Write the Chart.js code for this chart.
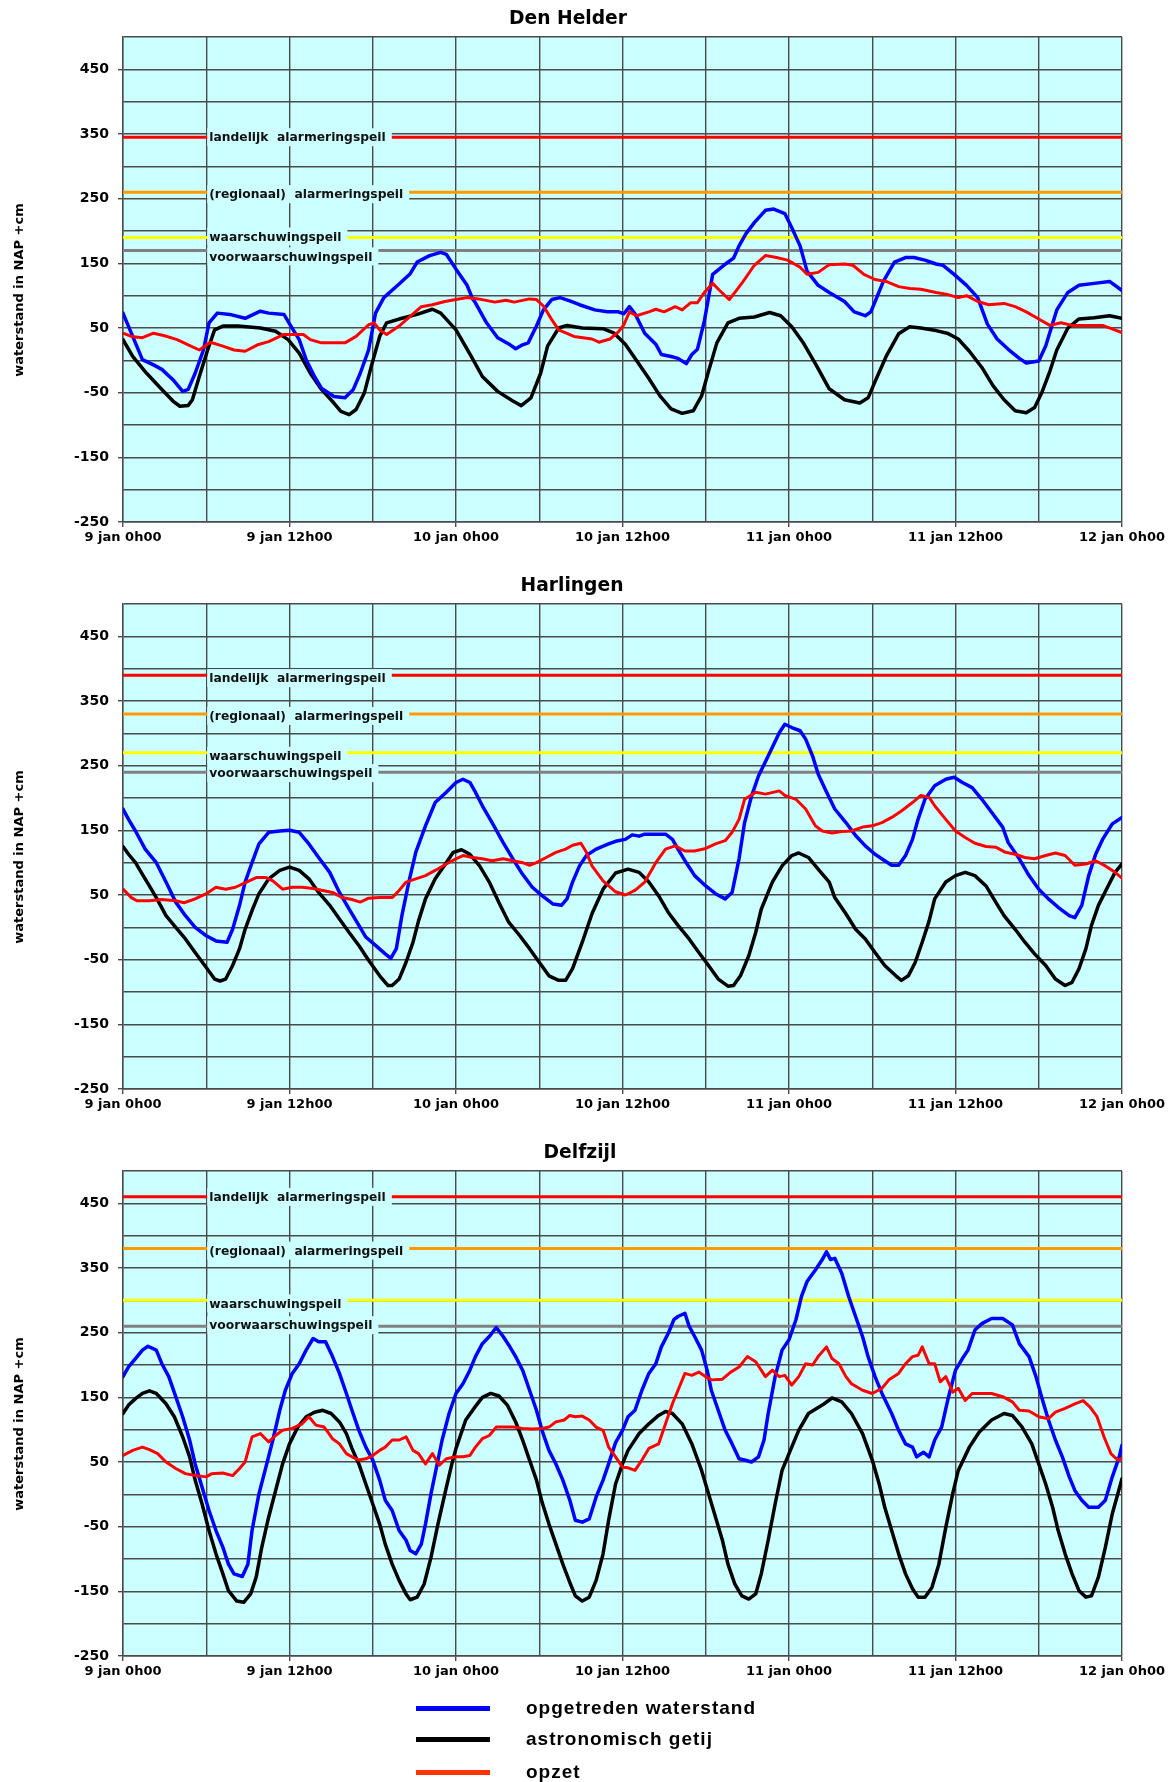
<!DOCTYPE html>
<html>
<head>
<meta charset="utf-8">
<script src="https://cdn.jsdelivr.net/npm/chart.js@4.4.1/dist/chart.umd.min.js"></script>
<style>
  body { margin: 0; background: #fff; width: 1173px; }
  .box { position: relative; width: 1173px; height: 567px; }
  #legend { position: relative; height: 114px; font: bold 19px "Liberation Sans", Arial, sans-serif; letter-spacing: 1px; color: #000; }
  .row { position: absolute; left: 416px; height: 24px; display: flex; align-items: center; white-space: nowrap; }
  .swatch { width: 74px; height: 5px; margin-right: 36px; }
</style>
</head>
<body>
<div class="box"><canvas id="helder"></canvas></div>
<div class="box"><canvas id="harlingen"></canvas></div>
<div class="box"><canvas id="delfzijl"></canvas></div>
<div id="legend"></div>
<script>
const stations = ["Den Helder", "Harlingen", "Delfzijl"];
const tickLabels = ["9 jan 0h00", "9 jan 12h00", "10 jan 0h00", "10 jan 12h00", "11 jan 0h00", "11 jan 12h00", "12 jan 0h00"];
const seriesNames = ["opgetreden waterstand", "astronomisch getij", "opzet"];
const levelNames = ["landelijk  alarmeringspeil", "(regionaal)  alarmeringspeil", "waarschuwingspeil", "voorwaarschuwingspeil"];

const helderLevels = [345, 260, 190, 170];
const harlingenLevels = [390, 330, 270, 240];
const delfzijlLevels = [460, 380, 300, 260];

// [hours since 9 jan 0h00, cm NAP]
const helderObserved = [[0,73],[0.6,42],[1.4,1],[2.2,-7],[2.8,-14],[3.6,-30],[4.3,-48],[4.7,-45],[5.2,-20],[5.8,16],[6.2,58],[6.8,73],[7.7,71],[8.8,65],[9.9,76],[10.5,73],[11.6,71],[12.1,53],[12.7,32],[13.2,1],[13.8,-25],[14.3,-43],[15.2,-56],[16,-58],[16.6,-45],[17.1,-20],[17.7,16],[18.2,73],[18.8,97],[19.9,118],[20.7,134],[21.2,152],[22.1,162],[22.9,167],[23.3,164],[24,141],[24.8,116],[25.2,95],[25.4,89],[26.2,58],[27,35],[27.9,24],[28.3,18],[28.8,24],[29.2,27],[29.8,53],[30.3,78],[30.9,94],[31.5,97],[32.2,92],[32.9,86],[34,78],[34.9,75],[35.7,75],[36.1,72],[36.5,83],[36.9,72],[37.6,42],[38.4,25],[38.8,9],[39.5,6],[40,3],[40.6,-5],[41,9],[41.4,17],[41.9,61],[42.5,133],[43.3,147],[44,158],[44.4,177],[44.9,196],[45.5,213],[46.3,232],[46.9,234],[47.7,227],[48.2,205],[48.8,177],[49.3,138],[50.1,116],[50.9,105],[52,91],[52.7,75],[53.5,69],[53.9,75],[54.8,122],[55.6,152],[56.4,159],[57,159],[57.8,155],[58.6,149],[59.1,147],[59.9,133],[60.8,116],[61.6,97],[62.3,56],[63,33],[63.8,17],[64.6,3],[65.1,-4],[66,-1],[66.5,22],[67.3,78],[68.1,105],[68.9,116],[70,119],[71.1,122],[72,108]];
const helderAstro = [[0,32],[0.7,6],[1.7,-20],[2.8,-45],[3.6,-63],[4.1,-71],[4.7,-70],[5,-61],[5.5,-25],[6.1,16],[6.6,47],[7.2,53],[8.3,53],[9.9,50],[11,45],[11.9,32],[12.7,11],[13.5,-20],[14.3,-45],[15.2,-66],[15.7,-79],[16.3,-84],[16.8,-76],[17.4,-50],[17.9,-9],[18.5,37],[19,58],[20.1,65],[21.2,71],[22.3,79],[22.9,73],[24,47],[25.1,6],[25.9,-25],[27,-48],[28.1,-63],[28.7,-70],[29.4,-58],[30.1,-20],[30.6,22],[31.4,50],[32,54],[33.1,50],[34.6,49],[35.4,42],[36.2,25],[37,0],[37.9,-28],[38.7,-55],[39.5,-75],[40.3,-82],[41.1,-78],[41.7,-55],[42.2,-17],[42.8,27],[43.6,58],[44.4,65],[45.5,67],[46.6,74],[47.4,69],[48.2,52],[49,28],[49.9,-5],[50.9,-44],[52,-61],[53.1,-66],[53.7,-58],[54.2,-33],[55,6],[55.9,41],[56.7,52],[57.5,50],[58.6,46],[59.4,42],[60.2,33],[61,14],[61.9,-11],[62.7,-39],[63.5,-61],[64.3,-78],[65.1,-81],[65.7,-73],[66.2,-51],[66.8,-17],[67.3,16],[68.1,50],[68.9,64],[70,66],[71.1,69],[72,65]];
const helderSurge = [[0,42],[0.6,37],[1.4,35],[2.2,42],[3,38],[3.9,32],[4.7,24],[5.5,16],[6.3,28],[7.2,22],[8,16],[8.8,14],[9.7,24],[10.5,29],[11.6,40],[12.4,40],[13,40],[13.5,32],[14.3,27],[15.2,27],[16,27],[16.8,37],[17.7,55],[18.1,58],[18.5,47],[19,40],[19.9,53],[20.7,68],[21.5,83],[22.3,86],[23.2,91],[24,94],[24.8,97],[25.6,95],[26.8,90],[27.6,93],[28.2,90],[29.3,95],[29.8,94],[30.3,84],[30.9,63],[31.4,47],[32.5,37],[33.8,33],[34.3,28],[35.1,33],[35.7,44],[36.1,55],[36.5,75],[37,69],[37.9,75],[38.4,79],[39,75],[39.8,83],[40.3,78],[40.9,89],[41.4,89],[41.9,105],[42.5,119],[43,108],[43.7,94],[44.1,105],[44.7,122],[45.5,147],[46.3,162],[47.1,159],[47.9,155],[48.8,144],[49.3,133],[50.1,136],[50.9,148],[52,149],[52.6,147],[53.4,133],[54.2,125],[55,122],[55.9,114],[56.7,111],[57.5,110],[58.6,105],[59.4,102],[60.2,97],[60.8,100],[61.6,91],[62.4,86],[63.5,88],[64.3,83],[65.1,75],[66,64],[66.8,54],[67.6,58],[68.4,54],[69.5,54],[70.6,54],[72,43]];

const harlingenObserved = [[0,183],[0.4,167],[0.9,149],[1.6,121],[2.4,100],[3.1,70],[3.8,39],[4.5,18],[5.2,0],[6,-13],[6.7,-21],[7.5,-23],[7.9,-3],[8.4,34],[8.8,70],[9.3,100],[9.8,129],[10.5,147],[11.3,149],[12,150],[12.7,147],[13.4,129],[14.1,108],[14.9,85],[15.6,54],[16.3,28],[17,3],[17.5,-15],[18.2,-28],[18.9,-41],[19.3,-48],[19.7,-33],[20.1,18],[20.6,70],[21.1,116],[21.8,157],[22.5,193],[23.3,209],[24,224],[24.5,229],[25,224],[25.4,209],[25.9,188],[26.6,162],[27.4,131],[28.1,106],[28.8,82],[29.5,62],[30.2,49],[31,36],[31.6,34],[32,44],[32.4,70],[32.9,95],[33.4,111],[34.1,121],[35,129],[35.5,133],[36.2,136],[36.7,143],[37.2,141],[37.6,144],[38.4,144],[39.1,144],[39.6,136],[40,121],[40.5,103],[41.2,80],[42,64],[42.7,52],[43.4,44],[43.9,54],[44.4,106],[44.8,162],[45.3,203],[45.8,234],[46.5,265],[47.3,301],[47.7,314],[48.2,309],[48.8,304],[49.2,291],[49.7,265],[50.1,237],[50.6,214],[51.3,183],[52.1,162],[52.8,142],[53.5,126],[54.2,113],[54.9,103],[55.4,96],[55.9,96],[56.4,111],[56.9,136],[57.3,167],[57.8,198],[58.5,219],[59.3,229],[59.9,232],[60.5,224],[61.2,216],[61.9,198],[62.6,178],[63.4,155],[63.8,131],[64.6,106],[65.3,80],[66,59],[66.7,44],[67.4,31],[68.2,18],[68.6,15],[69.1,34],[69.6,80],[70.1,113],[70.6,136],[71.3,160],[72,170]];
const harlingenAstro = [[0,125],[0.4,113],[0.9,100],[1.4,82],[1.9,64],[2.4,46],[3.1,18],[3.8,0],[4.5,-18],[5.2,-39],[6,-62],[6.6,-80],[7,-83],[7.4,-80],[7.9,-59],[8.4,-33],[8.8,-3],[9.3,26],[9.8,52],[10.5,75],[11.3,88],[12,93],[12.7,88],[13.4,75],[14.1,54],[14.9,34],[15.6,13],[16.3,-8],[17,-28],[17.7,-51],[18.5,-75],[19.1,-90],[19.4,-90],[19.9,-80],[20.4,-54],[20.9,-23],[21.3,10],[21.8,44],[22.5,75],[23.3,100],[23.8,116],[24.4,120],[25,113],[25.7,95],[26.4,70],[27.1,38],[27.8,8],[28.6,-13],[29.3,-33],[30,-54],[30.7,-75],[31.4,-82],[31.9,-82],[32.4,-64],[33.1,-23],[33.8,21],[34.6,59],[35.5,84],[36.4,90],[37.2,85],[37.9,70],[38.6,49],[39.3,23],[40,3],[40.8,-18],[41.5,-39],[42.2,-59],[42.9,-80],[43.6,-91],[44,-90],[44.5,-75],[45.1,-44],[45.6,-8],[46,28],[46.8,70],[47.5,95],[48.2,111],[48.7,115],[49.4,108],[50.1,90],[50.9,70],[51.3,46],[52.1,21],[52.8,-3],[53.5,-18],[54.2,-39],[54.9,-59],[55.7,-75],[56.1,-82],[56.6,-75],[57.1,-54],[57.6,-23],[58.1,10],[58.5,44],[59.3,70],[60,80],[60.7,85],[61.4,80],[62.2,64],[62.9,39],[63.5,18],[64.3,-3],[65,-23],[65.7,-41],[66.5,-59],[67.2,-80],[67.9,-90],[68.4,-85],[68.9,-64],[69.4,-33],[69.8,3],[70.3,34],[71,64],[71.5,85],[72,98]];
const harlingenSurge = [[0,59],[0.6,46],[1,41],[1.9,41],[2.8,43],[3.8,41],[4.4,38],[5.2,44],[6,52],[6.7,62],[7.4,59],[8.1,62],[8.9,70],[9.6,77],[10.3,77],[10.8,72],[11.5,59],[12.2,62],[12.9,62],[13.7,60],[14.4,57],[15.1,54],[15.8,46],[16.5,43],[17.1,39],[17.7,45],[18.5,46],[19.4,46],[19.9,57],[20.4,70],[21.1,75],[21.8,80],[22.5,88],[23.3,98],[24,106],[24.5,111],[25.2,108],[25.9,106],[26.6,103],[27.4,106],[28.1,103],[28.8,100],[29.3,96],[29.8,100],[30.5,108],[31.2,116],[31.9,121],[32.4,127],[33,130],[33.4,116],[33.8,95],[34.6,72],[35.5,55],[36.2,50],[36.9,57],[37.6,70],[38.4,100],[39.1,121],[39.8,126],[40.5,118],[41.2,118],[42,122],[42.7,129],[43.4,134],[43.9,147],[44.4,167],[44.8,198],[45.6,209],[46.3,206],[47.3,211],[47.7,204],[48.5,198],[49.2,183],[49.9,157],[50.4,149],[51.1,146],[51.8,148],[52.5,149],[53.3,155],[54,157],[54.7,162],[55.4,170],[56.1,180],[56.9,193],[57.5,204],[58.1,201],[58.5,188],[59.3,167],[60,149],[60.7,139],[61.4,130],[62.2,125],[62.9,124],[63.6,116],[64.3,113],[65,108],[65.7,106],[66.5,111],[67.2,115],[67.9,111],[68.6,96],[69.4,98],[70.1,103],[70.8,95],[71.5,85],[72,76]];

const delfzijlObserved = [[0,182],[0.4,197],[0.9,210],[1.4,223],[1.8,229],[2.4,223],[2.8,202],[3.3,182],[3.8,151],[4.3,120],[4.8,84],[5.2,47],[5.7,11],[6.2,-25],[6.7,-56],[7.2,-82],[7.6,-108],[8,-123],[8.6,-127],[9,-108],[9.3,-56],[9.8,1],[10.3,42],[10.8,84],[11.3,130],[11.7,161],[12.2,187],[12.7,202],[13.2,223],[13.7,241],[14.1,236],[14.6,236],[15.1,213],[15.6,187],[16.1,156],[16.5,130],[17,99],[17.5,73],[18,53],[18.5,22],[18.9,-9],[19.4,-25],[19.9,-56],[20.4,-71],[20.7,-87],[21.1,-92],[21.5,-77],[21.8,-46],[22.2,1],[22.5,32],[23,84],[23.5,125],[24,156],[24.5,171],[25,192],[25.4,213],[25.9,233],[26.4,244],[26.9,258],[27.4,244],[27.8,231],[28.3,213],[28.8,192],[29.3,161],[29.8,130],[30.2,99],[30.7,68],[31.2,47],[31.7,22],[32.2,-9],[32.6,-40],[33.1,-43],[33.6,-38],[34.1,-4],[34.6,22],[35,47],[35.5,80],[36,99],[36.4,120],[36.9,130],[37.4,161],[37.9,187],[38.4,202],[38.8,228],[39.3,249],[39.7,270],[40,275],[40.5,280],[40.8,260],[41.2,244],[41.7,223],[42.1,192],[42.4,161],[42.9,130],[43.4,99],[43.9,78],[44.4,55],[44.8,53],[45.3,50],[45.8,58],[46.2,84],[46.5,125],[47,182],[47.5,223],[48,239],[48.5,270],[48.9,306],[49.3,329],[49.9,347],[50.4,363],[50.7,375],[51,363],[51.3,365],[51.8,342],[52.3,306],[52.8,275],[53.3,244],[53.7,213],[54.2,182],[54.7,156],[55.4,125],[55.9,99],[56.4,78],[56.9,73],[57.2,58],[57.7,65],[58.1,58],[58.5,84],[59,104],[59.5,151],[60,192],[60.5,210],[60.9,223],[61.4,254],[61.9,264],[62.6,272],[63.4,272],[64.1,262],[64.6,233],[65.3,213],[65.8,182],[66.2,151],[66.7,115],[67.2,84],[67.7,58],[68.2,27],[68.6,6],[69.1,-9],[69.6,-20],[70.3,-20],[70.8,-9],[71.3,27],[71.8,58],[72,76]];
const delfzijlAstro = [[0,125],[0.4,138],[0.9,148],[1.4,156],[1.9,160],[2.4,156],[3.1,140],[3.7,120],[4.3,89],[4.8,58],[5.2,22],[5.7,-15],[6.2,-56],[6.7,-92],[7.2,-123],[7.6,-149],[8.2,-165],[8.7,-167],[9.2,-154],[9.6,-128],[10,-82],[10.5,-35],[11,6],[11.5,47],[12,78],[12.6,104],[13.2,120],[13.8,127],[14.4,130],[15,125],[15.6,112],[16.1,94],[16.5,71],[17,47],[17.5,16],[18,-15],[18.5,-46],[18.9,-77],[19.4,-108],[19.9,-133],[20.4,-154],[20.7,-163],[21.2,-159],[21.7,-139],[22.2,-97],[22.7,-46],[23.2,1],[23.7,47],[24,71],[24.7,115],[25.4,136],[25.9,150],[26.5,156],[27.1,152],[27.7,138],[28.3,112],[28.8,84],[29.3,53],[29.8,22],[30.2,-12],[30.7,-46],[31.2,-77],[31.7,-108],[32.2,-136],[32.6,-157],[33.1,-165],[33.6,-159],[34.1,-133],[34.6,-92],[35,-40],[35.5,16],[36,47],[36.4,68],[37.2,94],[37.9,109],[38.6,122],[39.1,128],[39.6,125],[40.3,109],[41,78],[41.7,37],[42.2,1],[42.7,-35],[43.2,-71],[43.6,-108],[44.1,-139],[44.6,-157],[45.1,-162],[45.6,-154],[46,-123],[46.5,-71],[47,-15],[47.5,37],[48,63],[48.7,99],[49.4,125],[50.4,138],[51.1,149],[51.8,143],[52.5,125],[53.3,94],[54,53],[54.5,16],[54.9,-20],[55.4,-56],[55.9,-92],[56.4,-123],[56.9,-146],[57.3,-159],[57.8,-159],[58.3,-144],[58.8,-108],[59.3,-51],[59.8,1],[60.2,37],[61,73],[61.7,96],[62.6,115],[63.5,125],[64.1,122],[64.8,104],[65.5,78],[66,47],[66.5,16],[67,-20],[67.4,-56],[67.9,-92],[68.4,-123],[68.9,-149],[69.4,-159],[69.8,-157],[70.3,-128],[70.8,-82],[71.3,-30],[72,24]];
const delfzijlSurge = [[0,60],[0.7,68],[1.4,73],[1.9,69],[2.5,63],[3.1,50],[3.8,40],[4.5,32],[5.2,29],[6,27],[6.4,32],[7.2,33],[7.9,29],[8.4,40],[8.8,50],[9.3,89],[9.9,94],[10.5,81],[11,91],[11.5,99],[12.2,102],[12.9,109],[13.4,120],[13.9,107],[14.5,104],[15.1,86],[15.6,78],[16.1,63],[16.5,58],[17,53],[17.5,55],[18,60],[18.5,68],[18.9,73],[19.4,84],[19.9,84],[20.4,89],[20.9,68],[21.3,63],[21.8,47],[22.3,63],[22.8,45],[23.3,55],[24,58],[24.5,58],[25,60],[25.4,73],[25.9,86],[26.4,91],[26.9,104],[27.4,104],[28.1,104],[28.8,102],[29.5,101],[30.2,102],[30.7,104],[31.2,112],[31.8,115],[32.2,122],[32.6,120],[33.1,121],[33.6,115],[34.1,104],[34.6,99],[35,73],[35.5,58],[36,42],[36.4,41],[36.9,37],[37.4,53],[37.9,71],[38.6,78],[39.1,109],[39.6,140],[40,161],[40.5,187],[41,184],[41.5,189],[42,182],[42.4,177],[43.2,178],[43.8,189],[44.4,197],[45,213],[45.6,205],[46.3,182],[46.8,192],[47.3,182],[47.7,184],[48.2,169],[48.7,182],[49.2,202],[49.7,200],[50.1,213],[50.7,228],[51.1,210],[51.6,202],[52.1,182],[52.5,171],[53.3,161],[54,156],[54.7,164],[55.2,177],[55.9,187],[56.4,202],[56.9,213],[57.3,215],[57.6,228],[58.1,202],[58.5,202],[58.9,174],[59.3,182],[59.8,158],[60.2,164],[60.7,145],[61.2,156],[61.9,156],[62.6,156],[63.4,151],[64.1,143],[64.6,130],[65.3,129],[66,120],[66.7,117],[67.2,127],[67.9,133],[68.6,140],[69.2,145],[69.7,135],[70.2,120],[70.7,89],[71.2,63],[71.7,53],[72,55]];

const seriesColors = ["#0000ff", "#000000", "#ff0000"];
const legendColors = ["#0000ff", "#000000", "#ff3300"];
const levelColors = ["#ff0000", "#ff9900", "#ffff00", "#808080"];
const gridColor = "#4a4a4a";
const plotBg = "#ccffff";

Chart.defaults.font.family = "DejaVu Sans";
Chart.defaults.color = "#000";

// plot background, level labels, chart title and y axis title
const decor = {
  id: "decor",
  beforeDraw(chart) {
    const { ctx, chartArea: a } = chart;
    ctx.save();
    ctx.fillStyle = plotBg;
    ctx.fillRect(a.left, a.top, a.right - a.left, a.bottom - a.top);
    ctx.restore();
  },
  afterDatasetDraw(chart, args, opts) {
    if (!chart.data.datasets[args.index].labelsAfter) return;
    const { ctx, scales: { x, y } } = chart;
    const left = x.getPixelForValue(6) + 1;
    ctx.save();
    ctx.font = "bold 12.3px 'DejaVu Sans'";
    ctx.textBaseline = "middle";
    opts.levels.forEach((v, i) => {
      const cy = y.getPixelForValue(v) + opts.shifts[i];
      const w = ctx.measureText(levelNames[i]).width;
      ctx.fillStyle = plotBg;
      ctx.fillRect(left, cy - 9, w + 8, 18);
      ctx.fillStyle = "#111";
      ctx.fillText(levelNames[i], left + 2, cy + 1);
    });
    ctx.restore();
  },
  afterDraw(chart, args, opts) {
    const { ctx } = chart;
    ctx.save();
    ctx.fillStyle = "#000";
    ctx.textAlign = "center";
    ctx.textBaseline = "middle";
    ctx.font = "bold 18.7px 'DejaVu Sans'";
    ctx.fillText(opts.title, opts.titleX, 19);
    ctx.translate(20, 290);
    ctx.rotate(-Math.PI / 2);
    ctx.font = "bold 13px 'DejaVu Sans'";
    ctx.fillText("waterstand in NAP +cm", 0, 0);
    ctx.restore();
  }
};

const toPoints = (pairs) => pairs.map(([h, v]) => ({ x: h, y: v }));

function makeChart(id, title, titleX, levels, observed, astro, surge, shifts) {
  const levelSets = levels.map((v, i) => ({
    data: [{ x: 0, y: v }, { x: 72, y: v }],
    borderColor: levelColors[i],
    borderWidth: 3,
    order: 10 + i,
    labelsAfter: i === 0
  }));
  const series = [observed, astro, surge].map((s, i) => ({
    label: seriesNames[i],
    data: toPoints(s),
    borderColor: seriesColors[i],
    borderWidth: i === 2 ? 3 : 3.5,
    order: [2, 3, 1][i]
  }));

  new Chart(document.getElementById(id), {
    type: "line",
    data: { datasets: series.concat(levelSets) },
    options: {
      responsive: true,
      maintainAspectRatio: false,
      animation: false,
      layout: { padding: { top: 37, right: 51, left: 0, bottom: 0 } },
      elements: {
        point: { radius: 0 },
        line: { tension: 0, borderJoinStyle: "round", borderCapStyle: "round", fill: false }
      },
      plugins: {
        legend: { display: false },
        tooltip: { enabled: false },
        decor: { title, titleX, levels, shifts }
      },
      scales: {
        x: {
          type: "linear",
          min: 0,
          max: 72,
          afterFit(s) { s.height = 45; },
          border: { color: gridColor, width: 1.4 },
          grid: {
            color: gridColor,
            lineWidth: 1.4,
            tickLength: 5,
            tickColor: (c) => (c.tick && c.tick.value % 12 === 0 ? gridColor : "rgba(0,0,0,0)")
          },
          ticks: {
            stepSize: 6,
            autoSkip: false,
            maxRotation: 0,
            padding: 3,
            color: "#000",
            font: { size: 13, weight: "bold" },
            callback: (v) => (v % 12 === 0 ? tickLabels[v / 12] : "")
          }
        },
        y: {
          min: -250,
          max: 500,
          afterFit(s) { s.width = 123; },
          border: { color: gridColor, width: 1.4 },
          grid: {
            color: gridColor,
            lineWidth: 1.4,
            tickLength: 5,
            tickColor: (c) => (c.tick && (c.tick.value + 250) % 100 === 0 ? gridColor : "rgba(0,0,0,0)")
          },
          ticks: {
            stepSize: 50,
            autoSkip: false,
            padding: 9,
            color: "#000",
            font: { size: 14, weight: "bold" },
            callback: (v) => ((v + 250) % 100 === 0 ? String(v) : "")
          }
        }
      }
    },
    plugins: [decor]
  });
}

makeChart("helder", stations[0], 568, helderLevels, helderObserved, helderAstro, helderSurge, [0, 2, -1, 6]);
makeChart("harlingen", stations[1], 572, harlingenLevels, harlingenObserved, harlingenAstro, harlingenSurge, [3, 2, 3, 1]);
makeChart("delfzijl", stations[2], 580, delfzijlLevels, delfzijlObserved, delfzijlAstro, delfzijlSurge, [0, 2, 3, -1]);

// legend below the charts
const legend = document.getElementById("legend");
const rowTops = [-5, 26, 59];
seriesNames.forEach((name, i) => {
  const row = document.createElement("div");
  row.className = "row";
  row.style.top = rowTops[i] + "px";
  const sw = document.createElement("div");
  sw.className = "swatch";
  sw.style.background = legendColors[i];
  const txt = document.createElement("span");
  txt.textContent = name;
  row.appendChild(sw);
  row.appendChild(txt);
  legend.appendChild(row);
});
</script>
</body>
</html>
